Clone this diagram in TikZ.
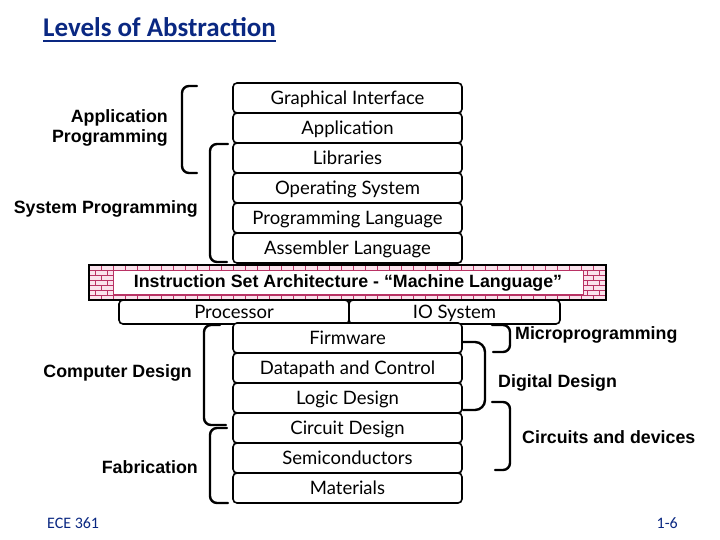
\documentclass[tikz,border=0pt]{standalone}
\usepackage{fontspec}
\setmainfont{Liberation Sans}
\newfontfamily\boxfont{Lato}
\newfontfamily\titlefont{Carlito}
\definecolor{navy}{RGB}{10,40,130}
\definecolor{brickfill}{RGB}{250,226,236}
\definecolor{brickline}{RGB}{185,50,100}
\tikzset{
  layer/.style={draw, line width=1.6pt, rounded corners=4pt, fill=white, inner sep=0pt,
    minimum width=229pt, minimum height=30pt, text height=13pt, text depth=0pt,
    font=\boxfont\fontsize{18.5}{20}\selectfont},
  half/.style={layer, minimum height=24pt},
  lbl/.style={font=\bfseries\fontsize{17.8}{20}\selectfont, inner sep=0pt},
  brace/.style={line width=2.4pt, rounded corners=7pt, line cap=round}
}
\begin{document}
\begin{tikzpicture}[x=1pt,y=-1pt]
        \useasboundingbox (0,0) rectangle (720,540);
        % title
        \node[anchor=base west, inner sep=0pt, text=navy, font=\titlefont\bfseries\fontsize{27}{29}\selectfont] (title) at (43,37) {Levels of Abstraction};
        \draw[navy, line width=1.5pt] (title.base west) ++(0,4) -- ([yshift=-4pt]title.base east);
        % upper stack
        \node[layer] (gui) at (347.5,98) {Graphical Interface};
        \node[layer] (app) at (347.5,128) {Application};
        \node[layer] (lib) at (347.5,158) {Libraries};
        \node[layer] (os) at (347.5,188) {Operating System};
        \node[layer] (plang) at (347.5,218) {Programming Language};
        \node[layer] (asm) at (347.5,248) {Assembler Language};
        % instruction set band
        \fill[brickfill] (89,265) rectangle (606,300);
        \begin{scope}
        \clip (89,265) rectangle (606,300);
        \foreach \r in {0,...,7} {
          \draw[brickline, line width=0.6pt] (89,265+5*\r) -- (606,265+5*\r);
        }
        \foreach \r in {0,...,6} {
          \foreach \c in {0,...,43} {
            \pgfmathsetmacro{\bx}{89+12*\c+6*mod(\r,2)}
            \draw[brickline, line width=0.6pt] (\bx,265+5*\r) -- (\bx,270+5*\r);
          }
        }
        \end{scope}
        \node[draw=brickline, line width=0.6pt, fill=white, inner sep=0pt, minimum width=470pt, minimum height=24pt] (isa) at (348,282.5) {};
        \node[lbl] at (isa) {Instruction Set Architecture - “Machine Language”};
        \draw[line width=1.5pt] (89,265) rectangle (606,300);
        % processor and io
        \node[half, minimum width=230pt] (proc) at (234,312) {Processor};
        \node[half, minimum width=211pt] (iosys) at (454.5,312) {IO System};
        % lower stack
        \node[layer] (fw) at (347.5,338) {Firmware};
        \node[layer] (dpath) at (347.5,368) {Datapath and Control};
        \node[layer] (logic) at (347.5,398) {Logic Design};
        \node[layer] (circ) at (347.5,428) {Circuit Design};
        \node[layer] (semi) at (347.5,458) {Semiconductors};
        \node[layer] (mat) at (347.5,488) {Materials};
        % braces left
        \draw[brace] (197,86) -- (182,86) -- (182,173) -- (197,173);
        \draw[brace] (228,144) -- (210,144) -- (210,262) -- (227,262);
        \draw[brace] (220,325) -- (204,325) -- (204,425) -- (226,425);
        \draw[brace] (227,428) -- (210,428) -- (210,503) -- (228,503);
        % braces right
        \draw[brace] (492,325) -- (510,325) -- (510,352) -- (493,352);
        \draw[brace, rounded corners=10pt] (463,342) -- (485,342) -- (485,410) -- (463,410);
        \draw[brace] (492,402) -- (510,402) -- (510,470) -- (495,470);
        % labels
        \node[lbl, align=right, anchor=east] (applbl) at (168,128) {Application\\Programming};
        \node[lbl, anchor=east] (syslbl) at (198,209) {System Programming};
        \node[lbl, anchor=east] (complbl) at (192,373) {Computer Design};
        \node[lbl, anchor=east] (fablbl) at (198,467) {Fabrication};
        \node[lbl, anchor=west] (microlbl) at (515,335) {Microprogramming};
        \node[lbl, anchor=west] (diglbl) at (498,383) {Digital Design};
        \node[lbl, anchor=west] (cirlbl) at (522,437) {Circuits and devices};
        % footer
        \node[anchor=west, inner sep=0pt, text=navy, font=\titlefont\fontsize{16}{18}\selectfont] (course) at (47,523) {ECE 361};
        \node[anchor=east, inner sep=0pt, text=navy, font=\titlefont\fontsize{16}{18}\selectfont] (page) at (678,523) {1-6};
        \end{tikzpicture}
\end{document}
